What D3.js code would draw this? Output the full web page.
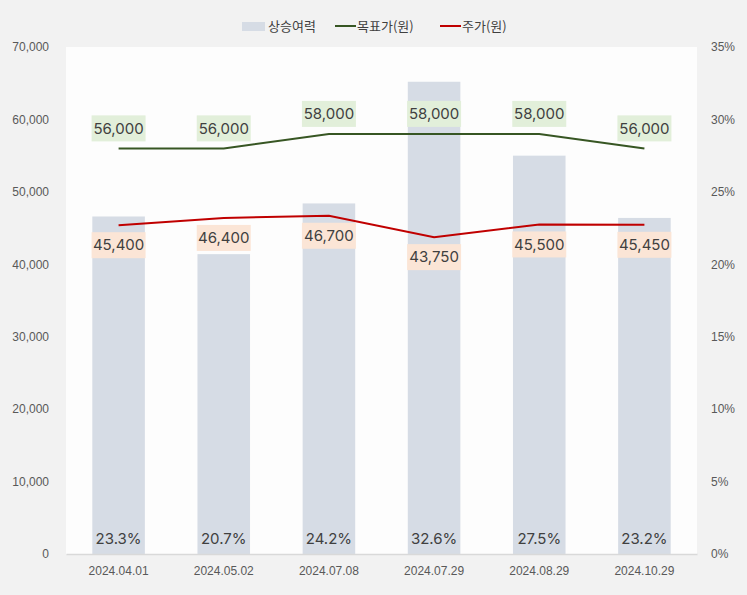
<!DOCTYPE html>
<html>
<head>
<meta charset="utf-8">
<script src="https://cdn.jsdelivr.net/npm/d3@7"></script>
<style>
  body { margin: 0; background: #f2f2f2; }
  svg { display: block; font-family: Inter, "Noto Sans CJK KR", sans-serif; }
</style>
</head>
<body>
<div id="vis"></div>
<script>
// Chart data
const dates = ["2024.04.01", "2024.05.02", "2024.07.08", "2024.07.29", "2024.08.29", "2024.10.29"];
const upside = [23.3, 20.7, 24.2, 32.6, 27.5, 23.2];
const target = [56000, 56000, 58000, 58000, 58000, 56000];
const price = [45400, 46400, 46700, 43750, 45500, 45450];
const leftTicks = [0, 10000, 20000, 30000, 40000, 50000, 60000, 70000];
const rightTicks = [0, 5, 10, 15, 20, 25, 30, 35];

const width = 747;
const height = 595;
const margin = { top: 47, right: 50, bottom: 41, left: 66 };

const svg = d3.select("#vis")
  .append("svg")
  .attr("width", width)
  .attr("height", height);

svg.append("rect")
  .attr("width", width).attr("height", height)
  .attr("fill", "#f2f2f2");

const x = d3.scaleBand()
  .domain(dates)
  .range([margin.left, width - margin.right])
  .paddingInner(0.5)
  .paddingOuter(0.25);

const yL = d3.scaleLinear()
  .domain([0, 70000])
  .range([height - margin.bottom, margin.top]);

const yR = d3.scaleLinear()
  .domain([0, 35])
  .range([height - margin.bottom, margin.top]);

// Plot area
svg.append("rect")
  .attr("x", margin.left).attr("y", margin.top)
  .attr("width", width - margin.left - margin.right)
  .attr("height", height - margin.top - margin.bottom)
  .attr("fill", "#fdfdfd");

// Left axis
svg.append("g")
  .attr("transform", `translate(${margin.left - 14},0)`)
  .call(d3.axisLeft(yL).tickValues(leftTicks).tickSize(0).tickFormat(d3.format(",")))
  .call(g => g.select(".domain").remove())
  .selectAll("text")
  .attr("fill", "#595959")
  .attr("font-size", "12px");

// Right axis
svg.append("g")
  .attr("transform", `translate(${width - margin.right + 11},0)`)
  .call(d3.axisRight(yR).tickValues(rightTicks).tickSize(0).tickFormat(d => d + "%"))
  .call(g => g.select(".domain").remove())
  .selectAll("text")
  .attr("fill", "#595959")
  .attr("font-size", "12px");

// Bars (upside)
svg.append("g")
  .selectAll("rect")
  .data(upside)
  .join("rect")
  .attr("x", (d, i) => x(dates[i]))
  .attr("y", d => yR(d))
  .attr("width", x.bandwidth())
  .attr("height", d => yR(0) - yR(d))
  .attr("fill", "#d6dce5");

// Bottom axis
svg.append("g")
  .attr("transform", `translate(0,${height - margin.bottom})`)
  .call(d3.axisBottom(x).tickSize(0).tickPadding(12))
  .call(g => g.select(".domain").attr("stroke", "#d9d9d9").attr("stroke-width", 1.5))
  .selectAll("text")
  .attr("fill", "#595959")
  .attr("font-size", "12px");

// Upside labels
svg.append("g")
  .selectAll("text")
  .data(upside)
  .join("text")
  .attr("x", (d, i) => x(dates[i]) + x.bandwidth() / 2)
  .attr("y", yR(0) - 10)
  .attr("text-anchor", "middle")
  .attr("fill", "#404040")
  .attr("font-size", "15px")
  .text(d => d.toFixed(1) + "%");

const cx = (d, i) => x(dates[i]) + x.bandwidth() / 2;

const line = d3.line()
  .x((d, i) => cx(d, i))
  .y(d => yL(d));

svg.append("path")
  .datum(target)
  .attr("d", line)
  .attr("fill", "none")
  .attr("stroke", "#375623")
  .attr("stroke-width", 2);

svg.append("path")
  .datum(price)
  .attr("d", line)
  .attr("fill", "none")
  .attr("stroke", "#c00000")
  .attr("stroke-width", 2);

// Value labels with boxes
function addLabels(values, dy, fill) {
  const g = svg.append("g");
  values.forEach((v, i) => {
    const lx = cx(v, i);
    const ly = yL(v) + dy;
    g.append("rect")
      .attr("x", lx - 27).attr("y", ly - 13)
      .attr("width", 54).attr("height", 26)
      .attr("fill", fill);
    g.append("text")
      .attr("x", lx).attr("y", ly)
      .attr("dy", "0.35em")
      .attr("text-anchor", "middle")
      .attr("fill", "#404040")
      .attr("font-size", "15px")
      .text(d3.format(",")(v));
  });
}
addLabels(target, -20, "#e2efda");
addLabels(price, 20, "#fbe5d6");

// Legend
const legend = svg.append("g")
  .attr("font-family", "'Noto Sans CJK KR', sans-serif")
  .attr("font-size", "13px");
legend.append("rect")
  .attr("x", 242).attr("y", 22).attr("width", 23).attr("height", 9)
  .attr("fill", "#d6dce5");
legend.append("text").attr("x", 268).attr("y", 26).attr("dy", "0.35em").attr("fill", "#404040").text("상승여력");
legend.append("line")
  .attr("x1", 335).attr("x2", 356).attr("y1", 26).attr("y2", 26)
  .attr("stroke", "#375623").attr("stroke-width", 2);
legend.append("text").attr("x", 357).attr("y", 26).attr("dy", "0.35em").attr("fill", "#404040").text("목표가(원)");
legend.append("line")
  .attr("x1", 440).attr("x2", 461).attr("y1", 26).attr("y2", 26)
  .attr("stroke", "#c00000").attr("stroke-width", 2);
legend.append("text").attr("x", 462).attr("y", 26).attr("dy", "0.35em").attr("fill", "#404040").text("주가(원)");
</script>
</body>
</html>
